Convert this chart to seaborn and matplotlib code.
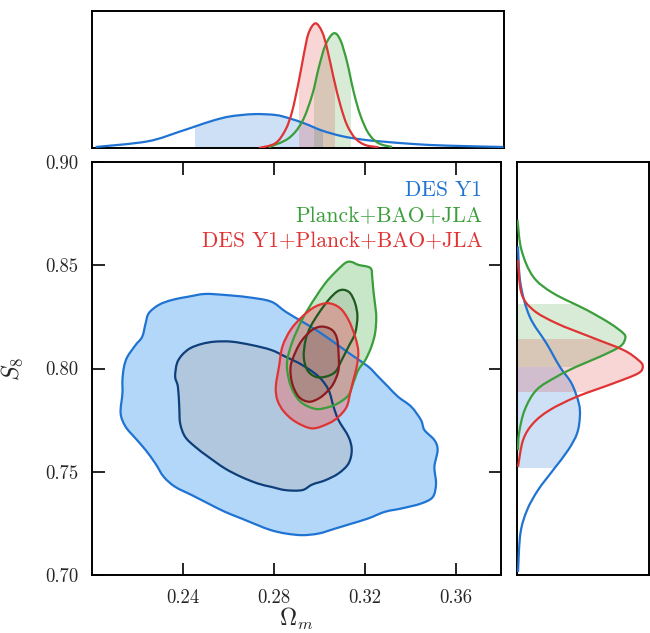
import numpy as np
import matplotlib
matplotlib.use("Agg")
import matplotlib.pyplot as plt
import seaborn as sns
from matplotlib.patches import Rectangle, PathPatch
from matplotlib.path import Path

# ---------------- data ----------------
labels = ["DES Y1", "Planck+BAO+JLA", "DES Y1+Planck+BAO+JLA"]
x_ticks = [0.24, 0.28, 0.32, 0.36]
y_ticks = [0.70, 0.75, 0.80, 0.85, 0.90]

# 2D contours (Omega_m, S8) : 95% and 68% outlines
om_des_2s = [0.2788,0.2687,0.2585,0.2497,0.2425,0.2352,0.2294,0.2250,0.2236,0.2221,0.2192,0.2156,0.2141,0.2134,0.2134,0.2126,0.2148,0.2192,0.2236,0.2279,0.2316,0.2366,0.2439,0.2512,0.2585,0.2657,0.2730,0.2788,0.2852,0.2925,0.2998,0.3071,0.3143,0.3216,0.3289,0.3361,0.3448,0.3500,0.3514,0.3507,0.3521,0.3507,0.3463,0.3448,0.3405,0.3347,0.3303,0.3260,0.3216,0.3143,0.3071,0.2998,0.2925,0.2852]
s8_des_2s = [0.8324,0.8345,0.8356,0.8361,0.8348,0.8332,0.8308,0.8268,0.8219,0.8154,0.8114,0.8057,0.8009,0.7944,0.7880,0.7783,0.7718,0.7661,0.7605,0.7540,0.7475,0.7427,0.7387,0.7346,0.7306,0.7274,0.7241,0.7217,0.7201,0.7193,0.7201,0.7225,0.7249,0.7274,0.7306,0.7322,0.7346,0.7378,0.7443,0.7524,0.7605,0.7653,0.7702,0.7750,0.7815,0.7863,0.7912,0.7960,0.8009,0.8065,0.8122,0.8178,0.8227,0.8275]
om_des_1s = [0.2788,0.2701,0.2614,0.2541,0.2483,0.2432,0.2396,0.2374,0.2366,0.2378,0.2384,0.2388,0.2410,0.2454,0.2512,0.2585,0.2657,0.2730,0.2788,0.2852,0.2925,0.2969,0.3027,0.3085,0.3129,0.3143,0.3129,0.3085,0.3063,0.3041,0.2998,0.2925,0.2852]
s8_des_1s = [0.8090,0.8114,0.8130,0.8130,0.8119,0.8098,0.8065,0.8025,0.7960,0.7912,0.7815,0.7734,0.7669,0.7621,0.7572,0.7516,0.7475,0.7443,0.7427,0.7411,0.7411,0.7438,0.7459,0.7492,0.7540,0.7605,0.7669,0.7750,0.7815,0.7896,0.7960,0.8017,0.8057]

om_pl_2s = [0.3142,0.3172,0.3225,0.3233,0.3238,0.3246,0.3251,0.3246,0.3229,0.3203,0.3172,0.3150,0.3129,0.3085,0.3041,0.2985,0.2924,0.2889,0.2867,0.2858,0.2880,0.2924,0.2954,0.2985,0.3028,0.3072,0.3116]
s8_pl_2s = [0.8516,0.8502,0.8487,0.8444,0.8381,0.8308,0.8250,0.8172,0.8104,0.8041,0.7993,0.7930,0.7871,0.7833,0.7813,0.7804,0.7833,0.7881,0.7944,0.8027,0.8124,0.8235,0.8293,0.8347,0.8415,0.8468,0.8512]
om_pl_1s = [0.3107,0.3136,0.3158,0.3168,0.3158,0.3129,0.3099,0.3071,0.3027,0.2983,0.2947,0.2932,0.2940,0.2962,0.2998,0.3041,0.3078]
s8_pl_1s = [0.8381,0.8365,0.8316,0.8251,0.8171,0.8106,0.8041,0.7984,0.7960,0.7960,0.7993,0.8057,0.8138,0.8203,0.8268,0.8332,0.8372]

om_cb_2s = [0.3041,0.3092,0.3129,0.3158,0.3172,0.3165,0.3150,0.3136,0.3121,0.3085,0.3041,0.2969,0.2896,0.2845,0.2816,0.2809,0.2823,0.2838,0.2874,0.2925,0.2983]
s8_cb_2s = [0.8316,0.8292,0.8235,0.8154,0.8081,0.8009,0.7944,0.7880,0.7815,0.7766,0.7734,0.7710,0.7742,0.7791,0.7847,0.7912,0.8009,0.8106,0.8187,0.8251,0.8300]
om_cb_1s = [0.3012,0.3056,0.3078,0.3085,0.3085,0.3063,0.3034,0.2998,0.2954,0.2910,0.2881,0.2874,0.2896,0.2925,0.2969]
s8_cb_1s = [0.8203,0.8187,0.8146,0.8074,0.7993,0.7928,0.7887,0.7855,0.7839,0.7863,0.7928,0.8009,0.8081,0.8138,0.8187]

# 1D marginals of Omega_m (top panel)
om_des_1d = [0.2016,0.2242,0.2387,0.2452,0.2532,0.2605,0.2707,0.2801,0.2859,0.2932,0.3005,0.3092,0.3180,0.3260,0.3405,0.3551,0.3798]
p_om_des  = [0.008,0.053,0.134,0.174,0.222,0.254,0.272,0.265,0.240,0.195,0.140,0.095,0.068,0.053,0.032,0.019,0.008]
om_pl_1d  = [0.2772,0.2859,0.2918,0.2962,0.2990,0.3020,0.3056,0.3085,0.3114,0.3143,0.3172,0.3208,0.3252,0.3311]
p_om_pl   = [0.006,0.078,0.211,0.426,0.640,0.827,0.921,0.867,0.693,0.452,0.265,0.118,0.038,0.008]
om_cb_1d  = [0.2729,0.2801,0.2845,0.2874,0.2903,0.2925,0.2946,0.2976,0.3005,0.3027,0.3056,0.3085,0.3114,0.3150,0.3194,0.3252]
p_om_cb   = [0.000,0.038,0.145,0.291,0.532,0.747,0.921,1.001,0.934,0.800,0.560,0.345,0.185,0.078,0.024,0.006]
om_68 = {"des": (0.2452, 0.3009), "pl": (0.2968, 0.3132), "cb": (0.2906, 0.3060)}

# 1D marginals of S8 (right panel)
s8_des_1d = [0.8591,0.8413,0.8251,0.8122,0.8009,0.7928,0.7831,0.7766,0.7686,0.7605,0.7508,0.7411,0.7314,0.7201,0.7015]
p_s8_des  = [0.008,0.027,0.101,0.234,0.340,0.434,0.492,0.500,0.478,0.407,0.287,0.167,0.080,0.027,0.008]
s8_pl_1d  = [0.8720,0.8575,0.8445,0.8365,0.8284,0.8219,0.8171,0.8146,0.8106,0.8057,0.8009,0.7960,0.7896,0.7799,0.7686,0.7605]
p_s8_pl   = [0.004,0.035,0.128,0.287,0.553,0.739,0.845,0.861,0.819,0.659,0.474,0.314,0.155,0.061,0.016,0.008]
s8_cb_1d  = [0.8526,0.8365,0.8284,0.8219,0.8154,0.8090,0.8041,0.8012,0.7977,0.7928,0.7863,0.7799,0.7734,0.7653,0.7524]
p_s8_cb   = [0.008,0.035,0.128,0.314,0.580,0.845,0.965,1.000,0.965,0.766,0.474,0.261,0.128,0.048,0.008]
s8_68 = {"des": (0.7516, 0.8009), "pl": (0.8009, 0.8311), "cb": (0.7888, 0.8142)}

# ---------------- style ----------------
sns.set_style("ticks")
plt.rcParams["font.family"] = ["cmr10", "DejaVu Serif"]
plt.rcParams["mathtext.fontset"] = "cm"
plt.rcParams["axes.formatter.use_mathtext"] = True
plt.rcParams["axes.unicode_minus"] = False
plt.rcParams["axes.edgecolor"] = "black"
plt.rcParams["axes.linewidth"] = 1.4

C_BLUE, C_GREEN, C_RED = "#1f73d2", "#3a9e3a", "#e03434"
C_BLUE_D, C_GREEN_D, C_RED_D = "#0f3f7a", "#1e5a1e", "#8c1a1e"

W, H = 650, 633
fig = plt.figure(figsize=(W / 100, H / 100), dpi=100)
ax = fig.add_axes([92 / W, 58 / H, 409 / W, 413 / H])
axt = fig.add_axes([92 / W, 485 / H, 412 / W, 137 / H])
axr = fig.add_axes([517 / W, 58 / H, 132 / W, 413 / H])


def smooth_path(xs, ys, closed):
    """Bezier path passing through the read points (Catmull-Rom tangents)."""
    P = np.column_stack([xs, ys]).astype(float)
    n = len(P)
    verts = [P[0]]
    codes = [Path.MOVETO]
    nseg = n if closed else n - 1
    for i in range(nseg):
        p0 = P[(i - 1) % n] if (closed or i > 0) else P[0]
        p1 = P[i % n]
        p2 = P[(i + 1) % n]
        p3 = P[(i + 2) % n] if (closed or i + 2 < n) else P[-1]
        verts += [p1 + (p2 - p0) / 6.0, p2 - (p3 - p1) / 6.0, p2]
        codes += [Path.CURVE4] * 3
    if closed:
        verts.append(P[0])
        codes.append(Path.CLOSEPOLY)
    return Path(np.array(verts), codes)


def contour(om, s8, fc, fa, lc, z):
    p = smooth_path(om, s8, True)
    ax.add_patch(PathPatch(p, facecolor=fc, alpha=fa, edgecolor="none", zorder=z))
    ax.add_patch(PathPatch(p, fill=False, edgecolor=lc, lw=1.6, zorder=10 + z))


contour(om_des_2s, s8_des_2s, "#b3d7f9", 1.0, C_BLUE, 1)
contour(om_des_1s, s8_des_1s, "#b0c7dd", 1.0, C_BLUE_D, 2)
contour(om_pl_2s, s8_pl_2s, "#9bd29b", 0.55, C_GREEN, 3)
contour(om_pl_1s, s8_pl_1s, "#667f66", 0.18, C_GREEN_D, 4)
contour(om_cb_2s, s8_cb_2s, "#e8787f", 0.5, C_RED, 5)
contour(om_cb_1s, s8_cb_1s, "#6e5050", 0.28, C_RED_D, 6)

ax.set_xlim(0.20, 0.38)
ax.set_ylim(0.70, 0.90)
ax.set_xticks(x_ticks)
ax.set_yticks(y_ticks)
ax.set_xticklabels([f"{v:.2f}" for v in x_ticks])
ax.set_yticklabels([f"{v:.2f}" for v in y_ticks])
ax.tick_params(direction="in", length=9, width=1.4, top=True, right=True,
               labelsize=13.5, pad=10)
ax.set_xlabel(r"$\Omega_m$", fontsize=17)
ax.set_ylabel(r"$S_8$", fontsize=17)
ax.xaxis.set_label_coords(0.50, -0.075)
ax.yaxis.set_label_coords(-0.165, 0.5)

for lab, col, yy in zip(labels, [C_BLUE, C_GREEN, C_RED], [0.931, 0.868, 0.807]):
    ax.text(0.954, yy, lab, color=col, fontsize=15.5, ha="right", va="center",
            transform=ax.transAxes, zorder=30)

# ---------------- marginals ----------------
sets_top = [(om_des_1d, p_om_des, C_BLUE, 0.22, "des"),
            (om_pl_1d, p_om_pl, C_GREEN, 0.2, "pl"),
            (om_cb_1d, p_om_cb, C_RED, 0.2, "cb")]
for xs, ps, col, a, key in sets_top:
    curve = smooth_path(xs, ps, False)
    v = np.vstack([[xs[0], 0.0], curve.vertices, [xs[-1], 0.0], [xs[0], 0.0]])
    c = np.r_[Path.MOVETO, Path.LINETO, curve.codes[1:], Path.LINETO, Path.CLOSEPOLY]
    shade = PathPatch(Path(v, c), facecolor=col, alpha=a, lw=0, zorder=1)
    axt.add_patch(shade)
    lo, hi = om_68[key]
    shade.set_clip_path(Rectangle((lo, 0), hi - lo, 2, transform=axt.transData))
    sns.lineplot(x=xs, y=ps, sort=False, estimator=None, color=col, lw=0, ax=axt)
    axt.add_patch(PathPatch(curve, fill=False, edgecolor=col, lw=1.6, zorder=3))
axt.set_xlim(0.20, 0.38)
axt.set_ylim(0, 1.1)
axt.set_xticks([])
axt.set_yticks([])
axt.set_xlabel("")
axt.set_ylabel("")

sets_right = [(s8_des_1d, p_s8_des, C_BLUE, 0.22, "des"),
              (s8_pl_1d, p_s8_pl, C_GREEN, 0.2, "pl"),
              (s8_cb_1d, p_s8_cb, C_RED, 0.2, "cb")]
for ys, ps, col, a, key in sets_right:
    curve = smooth_path(ps, ys, False)
    v = np.vstack([[0.0, ys[0]], curve.vertices, [0.0, ys[-1]], [0.0, ys[0]]])
    c = np.r_[Path.MOVETO, Path.LINETO, curve.codes[1:], Path.LINETO, Path.CLOSEPOLY]
    shade = PathPatch(Path(v, c), facecolor=col, alpha=a, lw=0, zorder=1)
    axr.add_patch(shade)
    lo, hi = s8_68[key]
    shade.set_clip_path(Rectangle((0, lo), 2, hi - lo, transform=axr.transData))
    sns.lineplot(x=ps, y=ys, sort=False, estimator=None, color=col, lw=0, ax=axr)
    axr.add_patch(PathPatch(curve, fill=False, edgecolor=col, lw=1.6, zorder=3))
axr.set_xlim(0, 1.05)
axr.set_ylim(0.70, 0.90)
axr.set_xticks([])
axr.set_yticks([])
axr.set_xlabel("")
axr.set_ylabel("")

for a_ in (ax, axt, axr):
    for s in a_.spines.values():
        s.set_visible(True)
        s.set_linewidth(1.4)
        s.set_color("black")

fig.savefig("out.png", dpi=100)
